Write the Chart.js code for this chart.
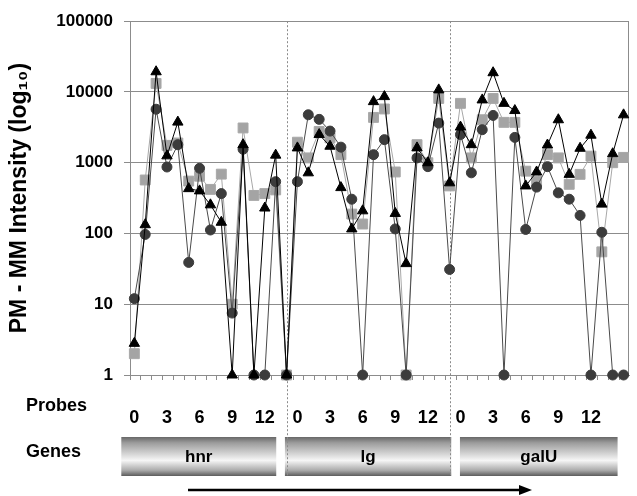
<!DOCTYPE html>
<html>
<head>
<meta charset="utf-8">
<script src="https://cdn.jsdelivr.net/npm/chart.js@4.4.1/dist/chart.umd.min.js"></script>
<style>
  html, body { margin: 0; padding: 0; background: #fff; }
  canvas { display: block; }
</style>
</head>
<body>
<canvas id="GraficoSondas" width="637" height="496"></canvas>
<script>
// sondas por gen: hnr 0-14, lg 0-14, galU 0-15
var probes = [0,1,2,3,4,5,6,7,8,9,10,11,12,13,14,
              0,1,2,3,4,5,6,7,8,9,10,11,12,13,14,
              0,1,2,3,4,5,6,7,8,9,10,11,12,13,14,15];
var genes = ['hnr', 'lg', 'galU'];
var probeTicks = [0, 3, 6, 9, 12];
var yTicks = [1, 10, 100, 1000, 10000, 100000];

// PM - MM
var serieTriangulos = [2.8,133,19300,1250,3750,430,400,254,144,1,1800,1,229,1280,1,
                       1620,720,2500,1710,445,116,209,7300,8600,192,37.5,1620,1000,10700,520,
                       3190,1800,7720,18700,6900,5460,470,740,1780,4050,685,1600,2450,260,1340,4750];
var serieCirculos   = [12,97,5700,870,1800,39,835,112,366,7.5,1550,1,1,540,1,
                       540,4760,4100,2800,1660,305,1,1300,2120,116,1,1170,880,3630,31,
                       2500,720,2930,4660,1,2280,114,452,880,375,305,180,1,104,1,1];
var serieCuadrados  = [2.0,570,13200,1760,1900,550,645,420,690,10,3100,345,366,413,1,
                       1950,1170,2760,2240,1300,188,136,4370,5750,740,1,1800,1000,8100,470,
                       6900,1170,4050,8100,3720,3720,760,550,1300,1170,495,685,1240,55,1000,1190];

// posiciones de la parte inferior (en unidades de sonda / pixeles)
var geneSpans = [[-1.2, 13.05], [13.85, 29.15], [29.95, 44.45]];
var separators = [14, 29];

function puntos(arr) {
  return arr.map(function (v, i) { return { x: i, y: v }; });
}

var extras = {
  id: 'extras',
  beforeDatasetsDraw: function (chart) {
    var ctx = chart.ctx, a = chart.chartArea, xs = chart.scales.x;
    ctx.save();
    // borde del area
    ctx.strokeStyle = '#8c8c8c';
    ctx.lineWidth = 1;
    ctx.beginPath();
    ctx.moveTo(a.right - 0.5, a.top);
    ctx.lineTo(a.right - 0.5, a.bottom);
    ctx.stroke();
    // barras de genes
    var top = 437, bot = 476;
    geneSpans.forEach(function (s, k) {
      var x0 = xs.getPixelForValue(s[0]), x1 = xs.getPixelForValue(s[1]);
      var g = ctx.createLinearGradient(0, top, 0, bot);
      g.addColorStop(0, '#686868');
      g.addColorStop(0.15, '#9c9c9c');
      g.addColorStop(0.6, '#f6f6f6');
      g.addColorStop(0.85, '#acacac');
      g.addColorStop(1, '#5c5c5c');
      ctx.fillStyle = g;
      ctx.fillRect(x0, top, x1 - x0, bot - top);
      ctx.fillStyle = '#000';
      ctx.font = 'bold 17px "Liberation Sans", Arial, sans-serif';
      ctx.textAlign = 'center';
      ctx.textBaseline = 'middle';
      ctx.fillText(genes[k], (x0 + x1) / 2, 457);
    });
    // separadores punteados
    ctx.strokeStyle = '#8a8a8a';
    ctx.setLineDash([2, 2]);
    separators.forEach(function (i) {
      var px = Math.round(xs.getPixelForValue(i)) + 0.5;
      ctx.beginPath();
      ctx.moveTo(px, a.top);
      ctx.lineTo(px, 477);
      ctx.stroke();
    });
    ctx.setLineDash([]);
    // rotulos y flecha
    ctx.fillStyle = '#000';
    ctx.font = 'bold 18px "Liberation Sans", Arial, sans-serif';
    ctx.textAlign = 'left';
    ctx.textBaseline = 'middle';
    ctx.fillText('Probes', 26, 406);
    ctx.fillText('Genes', 26, 452);
    ctx.strokeStyle = '#000';
    ctx.lineWidth = 2.5;
    ctx.beginPath();
    ctx.moveTo(188, 490);
    ctx.lineTo(522, 490);
    ctx.stroke();
    ctx.beginPath();
    ctx.moveTo(532, 490);
    ctx.lineTo(519, 485);
    ctx.lineTo(519, 495);
    ctx.closePath();
    ctx.fill();
    ctx.restore();
  }
};

Chart.defaults.font.family = '"Liberation Sans", Arial, sans-serif';

var ctx1 = document.getElementById('GraficoSondas').getContext('2d');
var GraficoSondas = new Chart(ctx1, {
  type: 'line',
  data: {
    datasets: [{
      label: 'A',
      data: puntos(serieTriangulos),
      borderColor: '#000',
      backgroundColor: '#000',
      borderWidth: 1,
      pointStyle: 'triangle',
      pointRadius: 6,
      pointBorderWidth: 1,
      clip: false
    }, {
      label: 'B',
      data: puntos(serieCirculos),
      borderColor: '#4a4a4a',
      backgroundColor: '#3c3c3c',
      pointBorderColor: '#3c3c3c',
      borderWidth: 1,
      pointStyle: 'circle',
      pointRadius: 5,
      pointBorderWidth: 1,
      clip: false
    }, {
      label: 'C',
      data: puntos(serieCuadrados),
      borderColor: '#a8a8a8',
      backgroundColor: '#a4a4a4',
      borderWidth: 1,
      pointStyle: 'rect',
      pointRadius: 7,
      pointBorderWidth: 1,
      clip: false
    }]
  },
  options: {
    responsive: false,
    animation: false,
    layout: { padding: { top: 19, right: 4, left: 0, bottom: 0 } },
    plugins: { legend: { display: false }, tooltip: { enabled: false } },
    scales: {
      x: {
        type: 'linear', position: 'bottom', weight: 1,
        min: -0.4, max: 45.5,
        afterBuildTicks: function (s) {
          s.ticks = probes.map(function (p, i) { return { value: i - 0.4 }; });
        },
        afterFit: function (s) { s.height = 5; },
        ticks: { display: false },
        grid: { drawOnChartArea: false, tickLength: 5, color: '#8c8c8c' },
        border: { color: '#8c8c8c' }
      },
      x2: {
        type: 'linear', position: 'bottom', weight: 2,
        min: -0.4, max: 45.5,
        afterBuildTicks: function (s) {
          var t = [];
          probes.forEach(function (p, i) {
            if (probeTicks.indexOf(p) >= 0) t.push({ value: i });
          });
          s.ticks = t;
        },
        afterFit: function (s) { s.height = 116; },
        ticks: {
          autoSkip: false, maxRotation: 0, padding: 19, color: '#000',
          font: { size: 18, weight: 'bold' },
          callback: function (v) { return String(probes[v]); }
        },
        grid: { display: false },
        border: { display: false }
      },
      y: {
        type: 'logarithmic', min: 1, max: 100000,
        afterBuildTicks: function (s) {
          s.ticks = yTicks.map(function (v) { return { value: v }; });
        },
        afterFit: function (s) { s.width = 130; },
        ticks: {
          padding: 11, color: '#000',
          font: { size: 17, weight: 'bold' },
          callback: function (v) { return String(v); }
        },
        grid: { color: '#8c8c8c', tickLength: 6 },
        border: { color: '#8c8c8c' },
        title: {
          display: true, text: 'PM - MM Intensity (log\u2081\u2080)', color: '#000',
          font: { size: 23, weight: 'bold' }, padding: { top: 6, bottom: 0 }
        }
      }
    }
  },
  plugins: [extras]
});
</script>
</body>
</html>
